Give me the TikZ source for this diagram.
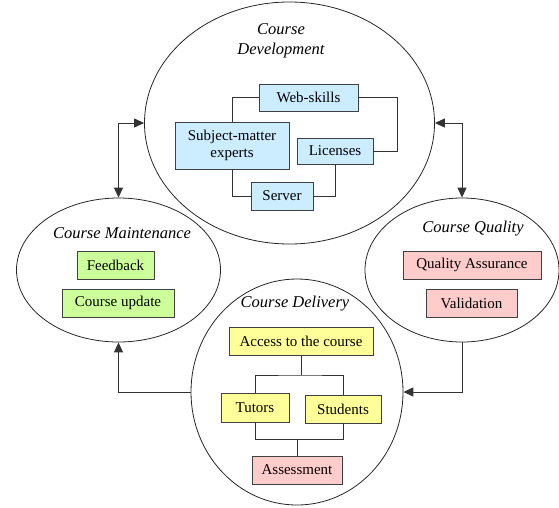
\documentclass[tikz,border=0pt]{standalone}
\usepackage{fontspec}
\setmainfont{Liberation Serif}
\usetikzlibrary{shapes.geometric,arrows.meta}
\definecolor{cblue}{RGB}{204,236,255}
\definecolor{cgreen}{RGB}{204,255,153}
\definecolor{cpink}{RGB}{255,204,204}
\definecolor{cyellow}{RGB}{255,255,153}
\begin{document}
\begin{tikzpicture}[x=1pt,y=-1pt,
  ell/.style={ellipse,draw=black!85,line width=0.8pt,inner sep=0pt},
  box/.style={draw=black!75,line width=0.9pt,inner sep=0pt,font=\fontsize{15}{17}\selectfont},
  ttl/.style={font=\fontsize{16.5}{20}\selectfont\itshape,inner sep=0pt},
  link/.style={draw=black!80,line width=1pt},
  tip/.tip={Triangle[length=10pt,width=9pt]},
  arr/.style={link,-tip},
  darr/.style={link,tip-tip}]
\useasboundingbox (0,0) rectangle (559,507);
% ellipses
\node[ell,minimum width=290,minimum height=242] (dev) at (289.5,123) {};
\node[ell,minimum width=204,minimum height=144] (maint) at (118.5,270) {};
\node[ell,minimum width=194,minimum height=144] (qual) at (462,270) {};
\node[ell,minimum width=212,minimum height=226] (del) at (297,392) {};
% titles
\node[ttl,align=center] (tdev) at (281,41) {Course\\Development};
\node[ttl] (tmaint) at (122,233) {Course Maintenance};
\node[ttl] (tqual) at (473,229) {Course Quality};
\node[ttl] (tdel) at (295,304) {Course Delivery};
% development boxes
\node[box,fill=cblue,minimum width=99,minimum height=27] (web) at (308.5,97.5) {Web-skills};
\node[box,fill=cblue,minimum width=114,minimum height=47,align=center] (sme) at (232,145.5) {Subject-matter\\experts};
\node[box,fill=cblue,minimum width=76,minimum height=26] (lic) at (335,151) {Licenses};
\node[box,fill=cblue,minimum width=62,minimum height=28] (srv) at (282,196) {Server};
% maintenance boxes
\node[box,fill=cgreen,minimum width=77,minimum height=28] (fb) at (115.5,265) {Feedback};
\node[box,fill=cgreen,minimum width=112,minimum height=28] (cu) at (118,303) {Course update};
% quality boxes
\node[box,fill=cpink,minimum width=138,minimum height=28] (qa) at (472,265) {Quality Assurance};
\node[box,fill=cpink,minimum width=91,minimum height=28] (val) at (471.5,303) {Validation};
% delivery boxes
\node[box,fill=cyellow,minimum width=144,minimum height=28] (acc) at (301,341) {Access to the course};
\node[box,fill=cyellow,minimum width=68,minimum height=29] (tut) at (255,407.5) {Tutors};
\node[box,fill=cyellow,minimum width=76,minimum height=28] (stu) at (343,409) {Students};
\node[box,fill=cpink,minimum width=90,minimum height=28] (ass) at (297,470) {Assessment};
% development links
\draw[link] (web.west) -| (sme.north);
\draw[link] (web.east) -- ++(39,0) |- (lic.east);
\draw[link] (sme.south) |- (srv.west);
\draw[link] (srv.east) -| (lic.south);
% delivery links
\coordinate (top) at (301,375);
\coordinate (bot) at (297,439);
\draw[link] (acc.south) -- (top);
\draw[link] (tut.north) |- (top) -| (stu.north);
\draw[link] (tut.south) |- (bot) -| (stu.south);
\draw[link] (bot) -- (ass.north);
% arrows between ellipses
\draw[darr] (dev.west) -| (maint.north);
\draw[darr] (dev.east) -| (qual.north);
\draw[arr] (del.west) -| (maint.south);
\draw[arr] (qual.south) |- (del.east);
\end{tikzpicture}
\end{document}
